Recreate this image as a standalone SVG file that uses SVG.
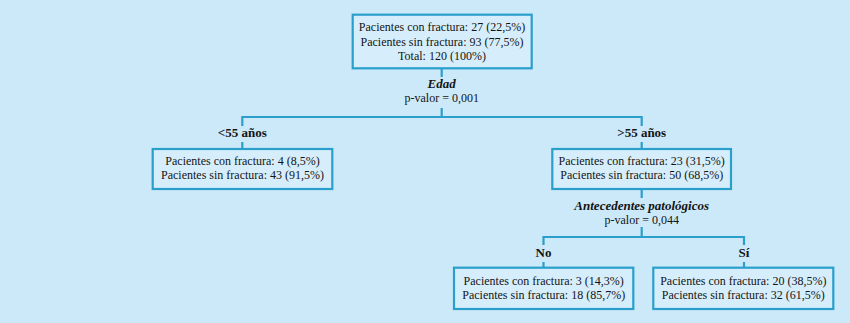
<svg xmlns="http://www.w3.org/2000/svg" width="850" height="323" viewBox="0 0 850 323">
<style>
.bg{fill:#cce9f9}
.box{fill:#d6eefb;stroke:#2a9fcc;stroke-width:2.2}
.ln{fill:none;stroke:#2a9fcc;stroke-width:2.2}
text{font-family:"Liberation Serif","Times New Roman",serif;font-size:12px;fill:#141414;text-anchor:middle}
.b{font-weight:bold;font-size:13px}
.bi{font-weight:bold;font-style:italic;font-size:13px}
</style>
<rect class="bg" x="0" y="0" width="850" height="323"/>
<g id="connectors">
<path class="ln" d="M441.7 68V77M441.7 108V117M242.3 117H641.7M242.3 116V126M242.3 142V149M641.7 116V126M641.7 142V149"/>
<path class="ln" d="M641.7 189V198M641.7 227V237M543.5 237H744M543.5 236V245M543.5 262V268M744 236V245M744 262V268"/>
</g>
<g id="root">
<rect class="box" x="352.7" y="14.7" width="179" height="53.6"/>
<text x="442" y="31">Pacientes con fractura: 27 (22,5%)</text>
<text x="442" y="45.5">Pacientes sin fractura: 93 (77,5%)</text>
<text x="442" y="60">Total: 120 (100%)</text>
</g>
<g id="split-edad">
<text class="bi" x="441.7" y="88">Edad</text>
<text x="441.7" y="102">p-valor = 0,001</text>
</g>
<g id="left">
<text class="b" x="242.3" y="137.3">&lt;55 años</text>
<rect class="box" x="152.7" y="149" width="179.6" height="40"/>
<text x="242.5" y="164.5">Pacientes con fractura: 4 (8,5%)</text>
<text x="242.5" y="178.5">Pacientes sin fractura: 43 (91,5%)</text>
</g>
<g id="right">
<text class="b" x="641.7" y="137.3">&gt;55 años</text>
<rect class="box" x="552.3" y="149" width="178.7" height="40"/>
<text x="641.7" y="164.5">Pacientes con fractura: 23 (31,5%)</text>
<text x="641.7" y="178.5">Pacientes sin fractura: 50 (68,5%)</text>
</g>
<g id="split-antecedentes">
<text class="bi" x="641.7" y="209.5">Antecedentes patológicos</text>
<text x="641.7" y="223.5">p-valor = 0,044</text>
</g>
<g id="no">
<text class="b" x="543.5" y="256.7">No</text>
<rect class="box" x="454" y="267.7" width="179.3" height="41.3"/>
<text x="543.7" y="285">Pacientes con fractura: 3 (14,3%)</text>
<text x="543.7" y="298.5">Pacientes sin fractura: 18 (85,7%)</text>
</g>
<g id="si">
<text class="b" x="744" y="256.7">Sí</text>
<rect class="box" x="653.3" y="267.7" width="180" height="41.3"/>
<text x="743.3" y="285">Pacientes con fractura: 20 (38,5%)</text>
<text x="743.3" y="298.5">Pacientes sin fractura: 32 (61,5%)</text>
</g>
</svg>
